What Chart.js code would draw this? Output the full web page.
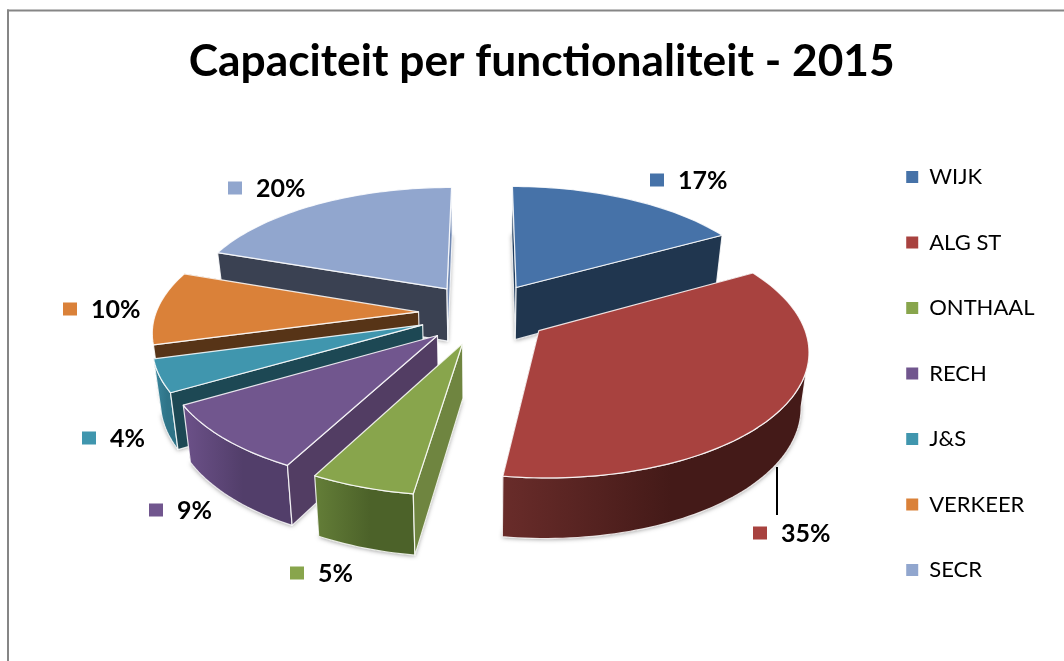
<!DOCTYPE html>
<html>
<head>
<meta charset="utf-8">
<style>html,body{margin:0;padding:0;background:#fff}canvas{display:block}</style>
<script src="https://cdn.jsdelivr.net/npm/chart.js@4"></script>
</head>
<body>
<canvas id="c" width="1064" height="661"></canvas>
<script>
const titleText = 'Capaciteit per functionaliteit - 2015';
const categories = ['WIJK','ALG ST','ONTHAAL','RECH','J&S','VERKEER','SECR'];
// shares; labels show them rounded
const values = [16.9,35.4,5.4,8.9,4.2,9.5,19.7];
const topColors = ['#4672A8','#A8423F','#88A54C','#71568E','#4096AE','#DA8139','#91A6CE'];
// explosion of every slice, in px on a 200 px radius
const explode = [50,50,51,50,50,50,50];
// side faces: [start cut, end cut, outer wall left, outer wall right]
const sideColors = [
  ['#1f3c5e','#20364f','#223a55','#223a55'],
  ['#5a2422','#5a2422','#692c2a','#441a18'],
  ['#6f8540','#6f8540','#647e38','#4c6229'],
  ['#523d63','#523d63','#6c5189','#523e6a'],
  ['#1d4854','#1d4854','#3c889f','#2f7488'],
  ['#573417','#573417','#9a5f2c','#8a5426'],
  ['#3a4152','#7189b3','#3a4152','#3a4152']
];
// default-placed data labels: [marker left, marker centre y]
const labelAnchors = [[650,180],[753,533],[290,573],[149,510],[82,438],[63,309],[228,188]];
const drawOrder = [6,0,5,4,3,2,1];
const leader = [777,467,777,515];
// homography of the tilted pie plane, then the extrusion downwards
const H = [262.7288,-67.1892,483.8892,0.6417,78.3168,312.9838,1.96282e-3,-0.1385];
const ext = {cx:481.5, yv:-884, depth:0.0445, squeeze:0.976};

function project(X,Y){
  const w = H[6]*X + H[7]*Y + 1;
  return {x:(H[0]*X+H[1]*Y+H[2])/w, y:(H[3]*X+H[4]*Y+H[5])/w};
}
function lower(p){
  return {x: ext.cx + (p.x-ext.cx)*ext.squeeze, y: p.y + ext.depth*(p.y-ext.yv)};
}
function pathOf(ctx,pts){
  ctx.beginPath();
  pts.forEach((p,i)=> i?ctx.lineTo(p.x,p.y):ctx.moveTo(p.x,p.y));
  ctx.closePath();
}
function side(a,b,p){ return (b.x-a.x)*(p.y-a.y)-(b.y-a.y)*(p.x-a.x); }

const pie3d = {
  id:'pie3d',
  beforeDraw(chart){
    const c = chart.ctx;
    c.save();
    c.fillStyle='#868686';
    c.fillRect(7,9.5,1057,2);
    c.fillRect(7,9.5,2,652);
    c.restore();
  },
  beforeDatasetsDraw(chart){
    const ctx = chart.ctx, arcs = chart.getDatasetMeta(0).data;
    drawOrder.forEach(i=>{
      const arc = arcs[i], R = arc.outerRadius;
      const s = arc.startAngle, e = arc.endAngle, m=(s+e)/2;
      const o = arc.options.offset/R;
      const ox = o*Math.cos(m), oy=o*Math.sin(m);
      const apex = project(ox,oy);
      const rim=[]; const n=Math.max(12,Math.ceil((e-s)*40));
      for(let j=0;j<=n;j++){const a=s+(e-s)*j/n; rim.push(project(ox+Math.cos(a),oy+Math.sin(a)));}
      const rimLow = rim.map(lower), apexLow = lower(apex);
      const S = rim[0], E = rim[n], M = rim[n>>1];
      const col = sideColors[i];
      ctx.save();
      ctx.shadowColor='rgba(0,0,0,0.38)'; ctx.shadowBlur=4; ctx.shadowOffsetY=1; ctx.shadowOffsetX=0;
      ctx.fillStyle=col[1];
      pathOf(ctx,[apexLow,...rimLow]); ctx.fill();
      ctx.restore();
      const below={x:apex.x,y:apex.y+1};
      const visible=(P)=> side(apex,P,below)*side(apex,P,M)<0;
      const cut=(P,c)=>{
        pathOf(ctx,[apex,P,lower(P),apexLow]);
        ctx.fillStyle=c; ctx.fill();
      };
      const outline=()=>{ctx.strokeStyle='rgba(255,255,255,0.85)';ctx.lineWidth=1.2;ctx.lineJoin='round';ctx.stroke();};
      if(!visible(S)) cut(S,col[0]);
      if(!visible(E)) cut(E,col[1]);
      let front=[]; for(let j=0;j<n;j++){ if(rim[j+1].x<rim[j].x){ if(!front.length) front.push(j); front.push(j+1);} }
      if(front.length){
        const top=front.map(j=>rim[j]), low=front.map(j=>rimLow[j]);
        const xs=top.concat(low).map(p=>p.x);
        const g=ctx.createLinearGradient(Math.min(...xs),0,Math.max(...xs),0);
        g.addColorStop(0,col[2]); g.addColorStop(0.55,col[3]); g.addColorStop(1,col[3]);
        pathOf(ctx,[...top,...low.slice().reverse()]);
        ctx.fillStyle=g; ctx.fill(); outline();
      }
      if(visible(S)){ cut(S,col[0]); outline(); }
      if(visible(E)){ cut(E,col[1]); outline(); }
      pathOf(ctx,[apex,...rim]);
      ctx.fillStyle=arc.options.backgroundColor; ctx.fill(); outline();
    });
    ctx.save();
    ctx.strokeStyle='#000'; ctx.lineWidth=2;
    ctx.beginPath(); ctx.moveTo(leader[0],leader[1]); ctx.lineTo(leader[2],leader[3]); ctx.stroke();
    ctx.restore();
    ctx.save();
    ctx.font='bold 25px Lato'; ctx.textBaseline='middle'; ctx.textAlign='left';
    values.forEach((v,i)=>{
      const [x,y]=labelAnchors[i];
      ctx.fillStyle=topColors[i]; ctx.fillRect(x,y-6.5,14,13);
      ctx.fillStyle='#000'; ctx.fillText(Math.round(v)+'%',x+28,y+1);
    });
    ctx.restore();
    return false;
  }
};

new Chart(document.getElementById('c'),{
  type:'pie',
  data:{labels:categories,datasets:[{data:values,backgroundColor:topColors,offset:explode,borderWidth:0,radius:200}]},
  plugins:[pie3d],
  options:{
    responsive:false,animation:false,
    layout:{padding:{left:39,right:19.5,top:0,bottom:2}},
    plugins:{
      tooltip:{enabled:false},
      title:{display:true,text:titleText,color:'#000',align:'center',font:{family:'Lato',weight:'bold',size:44.3,lineHeight:1.2},padding:{top:35,bottom:0}},
      legend:{position:'right',fullSize:false,labels:{boxWidth:12,boxHeight:12,padding:43.5,color:'#000',font:{family:'Lato',size:22}}}
    }
  }
});
</script>
</body>
</html>
